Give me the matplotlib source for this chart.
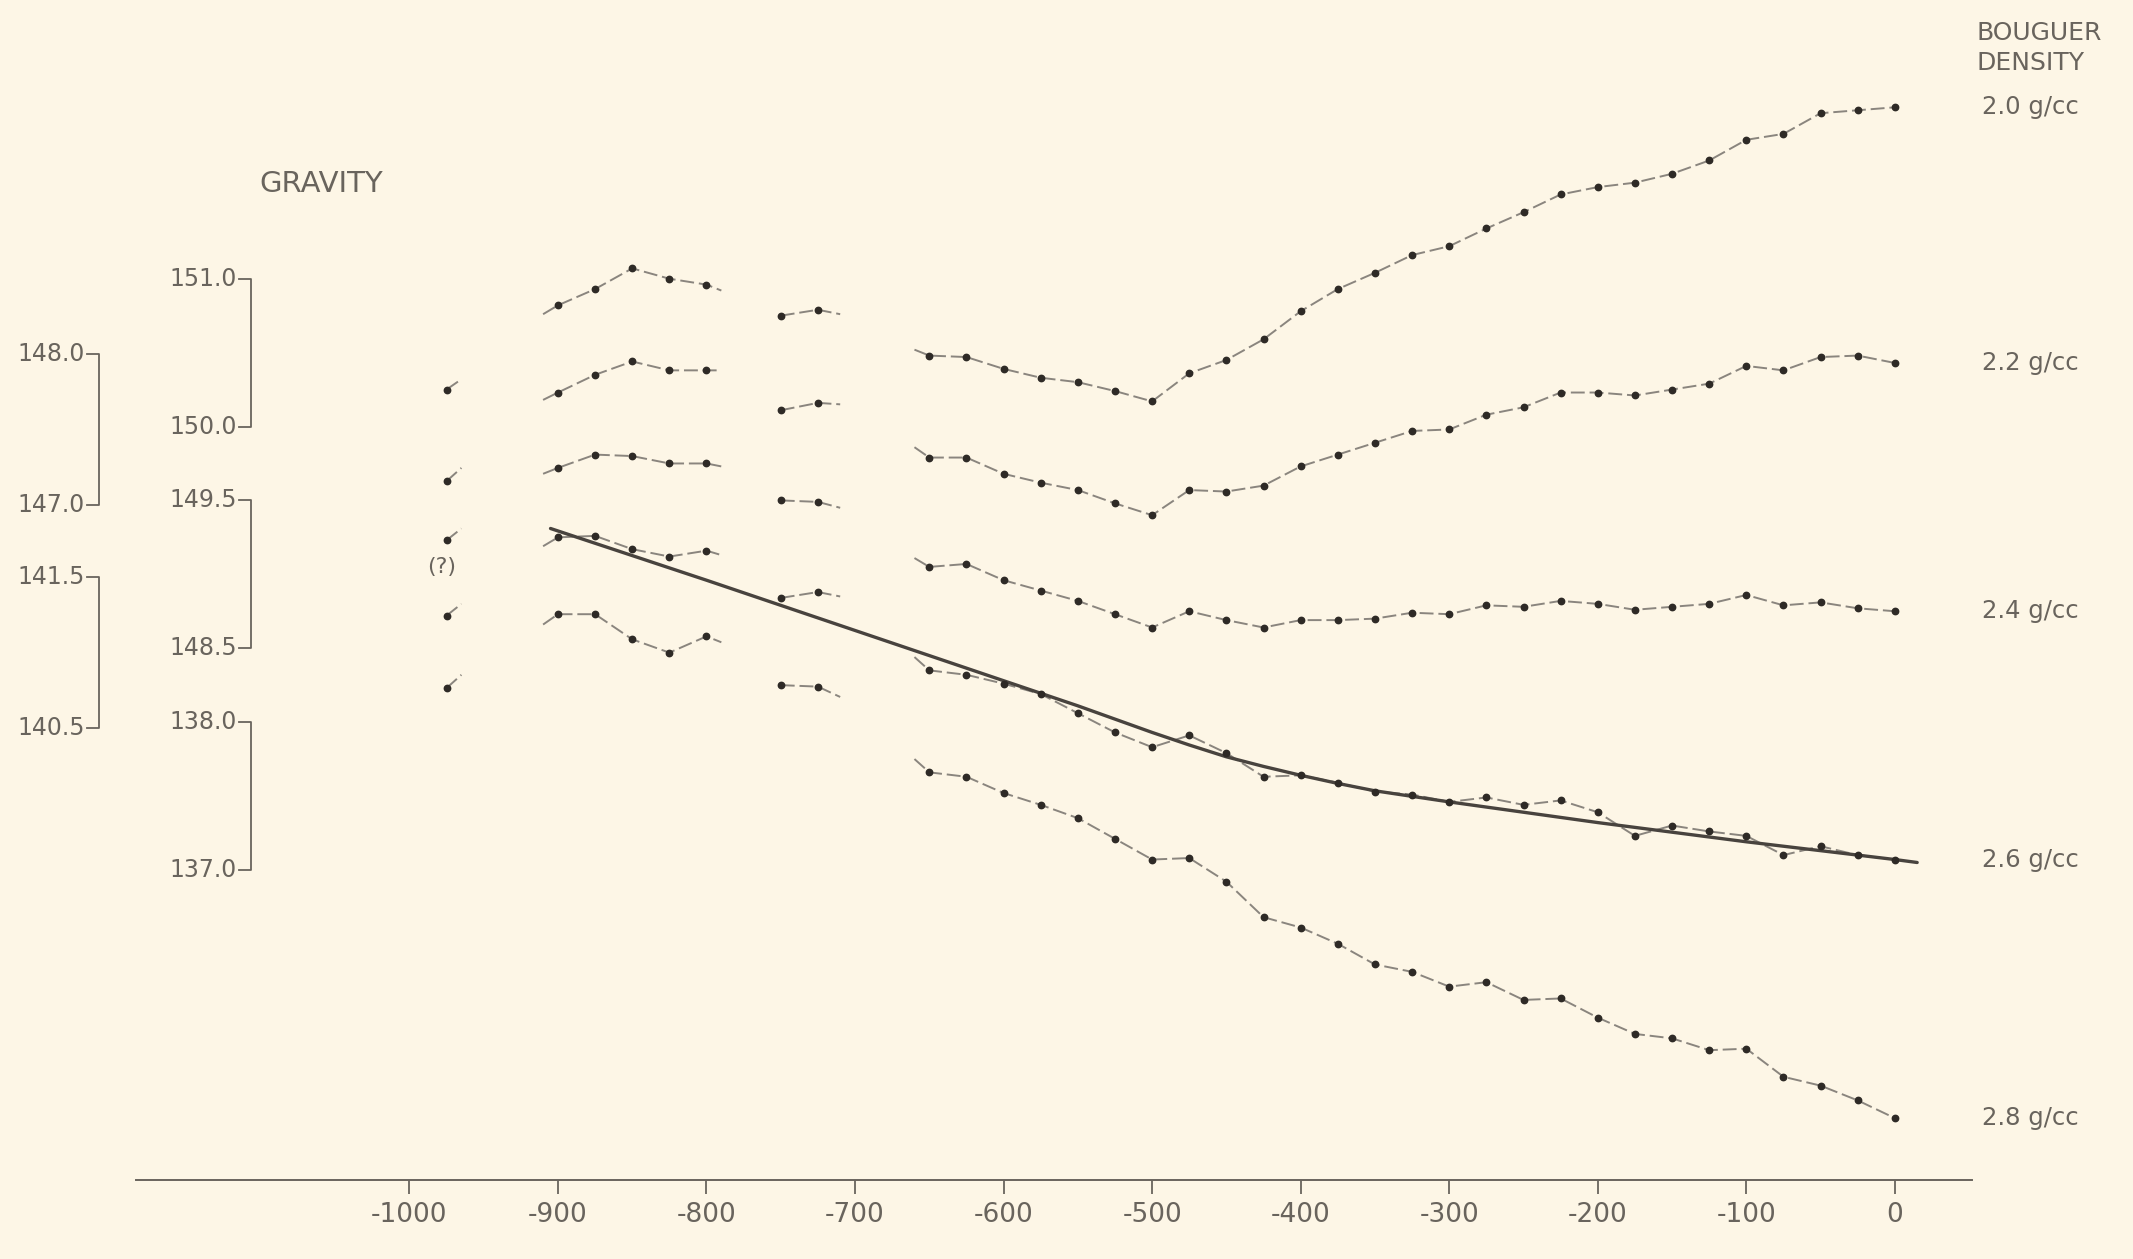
import numpy as np
import matplotlib
matplotlib.use("Agg")
import matplotlib.pyplot as plt

# Nettleton density profile: gravity vs elevation for several Bouguer densities

BG = "#fdf6e6"
INK = "#69645d"
DASH = "#8a857e"
DOT = "#2e2a26"
SOLID = "#48433e"

densities = ["2.0 g/cc", "2.2 g/cc", "2.4 g/cc", "2.6 g/cc", "2.8 g/cc"]

# far left single stations
x_a = [-975]
x_a_tail = -965
grav_a = [150.25, 149.63, 149.23, 148.72, 148.23]
grav_a_tail = [150.32, 149.72, 149.31, 148.80, 148.32]

# second group
x_b = [-900, -875, -850, -825, -800]
x_b_start, x_b_end = -910, -790
grav_b = [
    [150.82, 150.93, 151.07, 151.00, 150.96],
    [150.23, 150.35, 150.44, 150.38, 150.38],
    [149.72, 149.81, 149.80, 149.75, 149.75],
    [149.25, 149.26, 149.17, 149.12, 149.16],
    [148.73, 148.73, 148.56, 148.47, 148.58],
]
grav_b_start = [150.76, 150.18, 149.68, 149.19, 148.66]
grav_b_end = [150.92, 150.38, 149.73, 149.13, 148.54]

# third group
x_c = [-750, -725]
x_c_tail = -710
grav_c = [
    [150.75, 150.79],
    [150.11, 150.16],
    [149.50, 149.49],
    [148.84, 148.88],
    [148.25, 148.24],
]
grav_c_tail = [150.76, 150.15, 149.45, 148.85, 148.17]

# main traverse
x_d = np.arange(-650, 1, 25)
x_d_tail = -660
grav_d_tail = [150.52, 149.86, 149.11, 148.44, 147.75]
grav_d_20 = [150.48, 150.47, 150.39, 150.33, 150.30, 150.24, 150.17, 150.36, 150.45,
             150.59, 150.78, 150.93, 151.04, 151.16, 151.22, 151.34, 151.45, 151.57,
             151.62, 151.65, 151.71, 151.80, 151.94, 151.98, 152.12, 152.14, 152.16]
grav_d_22 = [149.79, 149.79, 149.68, 149.62, 149.57, 149.48, 149.40, 149.57, 149.56,
             149.60, 149.73, 149.81, 149.89, 149.97, 149.98, 150.08, 150.13, 150.23,
             150.23, 150.21, 150.25, 150.29, 150.41, 150.38, 150.47, 150.48, 150.43]
grav_d_24 = [149.05, 149.07, 148.96, 148.89, 148.82, 148.73, 148.64, 148.75, 148.69,
             148.64, 148.69, 148.69, 148.70, 148.74, 148.73, 148.79, 148.78, 148.82,
             148.80, 148.76, 148.78, 148.80, 148.86, 148.79, 148.81, 148.77, 148.75]
grav_d_26 = [148.35, 148.32, 148.26, 148.19, 148.06, 147.93, 147.83, 147.91, 147.79,
             147.63, 147.64, 147.59, 147.53, 147.51, 147.46, 147.49, 147.44, 147.47,
             147.39, 147.23, 147.30, 147.26, 147.23, 147.10, 147.16, 147.10, 147.07]
grav_d_28 = [147.66, 147.63, 147.52, 147.44, 147.35, 147.21, 147.07, 147.08, 146.92,
             146.68, 146.61, 146.50, 146.36, 146.31, 146.21, 146.24, 146.12, 146.13,
             146.00, 145.89, 145.86, 145.78, 145.79, 145.60, 145.54, 145.44, 145.32]
grav_d = [grav_d_20, grav_d_22, grav_d_24, grav_d_26, grav_d_28]

# smooth regional curve
x_fit = [-905, -800, -700, -600, -550, -500, -475, -450, -425, -400, -375, -350,
         -300, -250, -200, -150, -100, -50, 0, 15]
grav_fit = [149.31, 148.96, 148.62, 148.28, 148.11, 147.93, 147.845, 147.765, 147.70,
            147.64, 147.585, 147.535, 147.46, 147.39, 147.32, 147.255, 147.19, 147.13,
            147.07, 147.05]

# vertical scales
mid_labels = ["151.0", "150.0", "149.5", "148.5", "138.0", "137.0"]
mid_pos = [151.0, 150.0, 149.5, 148.5, 148.0, 147.0]
left_labels = ["148.0", "147.0", "141.5", "140.5"]
left_pos = [150.49, 149.47, 148.98, 147.96]

x_ticks = [-1000, -900, -800, -700, -600, -500, -400, -300, -200, -100, 0]


def main() -> None:
    plt.rcParams["lines.scale_dashes"] = False
    plt.rcParams["font.family"] = ["DejaVu Sans"]

    fig = plt.figure(figsize=(21.33, 12.59), dpi=100, facecolor=BG)
    ax = fig.add_axes([0, 0, 1, 1], facecolor=BG)
    ax.set_xlim(-1275.6, 160.3)
    ax.set_ylim(144.367, 152.886)

    line_kw = dict(color=DASH, lw=1.4, linestyle=(0, (10, 3.5)), zorder=2)
    dot_kw = dict(color=DOT, marker="o", ms=4.6, linestyle="none", zorder=4)

    for i in range(len(densities)):
        # group a
        ax.plot(x_a + [x_a_tail], [grav_a[i], grav_a_tail[i]], **line_kw)
        ax.plot(x_a, [grav_a[i]], **dot_kw)
        # group b
        ax.plot([x_b_start] + x_b + [x_b_end],
                [grav_b_start[i]] + grav_b[i] + [grav_b_end[i]], **line_kw)
        ax.plot(x_b, grav_b[i], **dot_kw)
        # group c
        ax.plot(x_c + [x_c_tail], grav_c[i] + [grav_c_tail[i]], **line_kw)
        ax.plot(x_c, grav_c[i], **dot_kw)
        # main traverse
        ax.plot([x_d_tail] + list(x_d), [grav_d_tail[i]] + grav_d[i], **line_kw)
        ax.plot(x_d, grav_d[i], **dot_kw)
        ax.text(58.6, grav_d[i][-1], densities[i], fontsize=17.5, color=INK,
                ha="left", va="center")

    ax.plot(x_fit, grav_fit, color=SOLID, lw=2.4, zorder=3,
            solid_capstyle="round", solid_joinstyle="round")

    ax.text(-978, 149.05, "(?)", fontsize=16, color=INK, ha="center", va="center")

    # middle scale brackets
    xv, xt = -1106.8, -1114.5
    for k in range(0, len(mid_pos), 2):
        top, bot = mid_pos[k], mid_pos[k + 1]
        ax.plot([xt, xv, xv, xt], [top, top, bot, bot], color=INK, lw=1.3)
    for lab, pos in zip(mid_labels, mid_pos):
        ax.text(xt - 1.5, pos, lab, fontsize=17, color=INK, ha="right", va="center")

    # left scale brackets
    xv, xt = -1209.2, -1217.0
    for k in range(0, len(left_pos), 2):
        top, bot = left_pos[k], left_pos[k + 1]
        ax.plot([xt, xv, xv, xt], [top, top, bot, bot], color=INK, lw=1.3)
    for lab, pos in zip(left_labels, left_pos):
        ax.text(xt - 1.5, pos, lab, fontsize=17, color=INK, ha="right", va="center")

    ax.text(-1059.5, 151.64, "GRAVITY", fontsize=21, color=INK, ha="center", va="center")
    ax.text(55, 152.665, "BOUGUER", fontsize=18, color=INK, ha="left", va="center")
    ax.text(55, 152.46, "DENSITY", fontsize=18, color=INK, ha="left", va="center")

    # x axis
    for side in ["left", "right", "top"]:
        ax.spines[side].set_visible(False)
    ax.spines["bottom"].set_position(("data", 144.90))
    ax.spines["bottom"].set_bounds(-1184, 52)
    ax.spines["bottom"].set_color(INK)
    ax.spines["bottom"].set_linewidth(1.4)
    ax.set_yticks([])
    ax.set_xticks(x_ticks)
    ax.set_xticklabels([str(t) for t in x_ticks])
    ax.tick_params(axis="x", direction="out", length=10, width=1.3, color=INK,
                   labelcolor=INK, labelsize=19, pad=6)

    fig.savefig("out.png", dpi=100, facecolor=BG)


if __name__ == "__main__":
    main()
